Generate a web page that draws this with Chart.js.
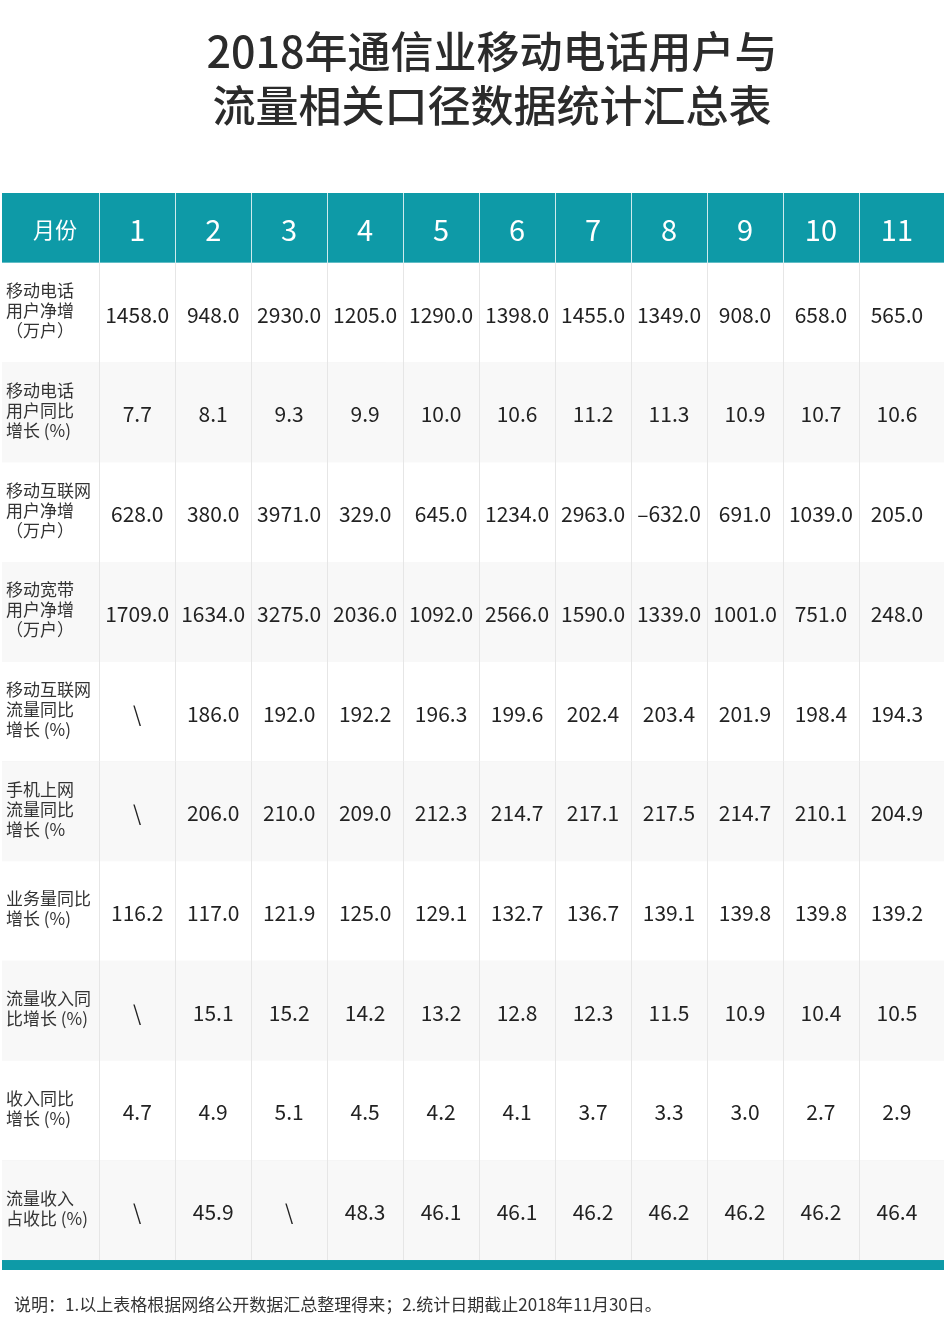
<!DOCTYPE html>
<html><head><meta charset="utf-8">
<script src="https://cdn.jsdelivr.net/npm/chart.js@4"></script>
<style>html,body{margin:0;padding:0;background:#fff}</style>
</head><body>
<canvas id="c" width="944" height="1340"></canvas>
<script>
const months = ['1','2','3','4','5','6','7','8','9','10','11'];
const rowLabels = [
 ['移动电话','用户净增','（万户）'],
 ['移动电话','用户同比','增长 (%)'],
 ['移动互联网','用户净增','（万户）'],
 ['移动宽带','用户净增','（万户）'],
 ['移动互联网','流量同比','增长 (%)'],
 ['手机上网','流量同比','增长 (%'],
 ['业务量同比','增长 (%)'],
 ['流量收入同','比增长 (%)'],
 ['收入同比','增长 (%)'],
 ['流量收入','占收比 (%)']
];
const mobileUsersNet = [1458,948,2930,1205,1290,1398,1455,1349,908,658,565];
const mobileUsersYoY = [7.7,8.1,9.3,9.9,10.0,10.6,11.2,11.3,10.9,10.7,10.6];
const mobileNetUsersNet = [628,380,3971,329,645,1234,2963,-632,691,1039,205];
const broadbandUsersNet = [1709,1634,3275,2036,1092,2566,1590,1339,1001,751,248];
const mobileTrafficYoY = [null,186.0,192.0,192.2,196.3,199.6,202.4,203.4,201.9,198.4,194.3];
const phoneTrafficYoY = [null,206.0,210.0,209.0,212.3,214.7,217.1,217.5,214.7,210.1,204.9];
const businessYoY = [116.2,117.0,121.9,125.0,129.1,132.7,136.7,139.1,139.8,139.8,139.2];
const trafficIncomeYoY = [null,15.1,15.2,14.2,13.2,12.8,12.3,11.5,10.9,10.4,10.5];
const incomeYoY = [4.7,4.9,5.1,4.5,4.2,4.1,3.7,3.3,3.0,2.7,2.9];
const trafficIncomeShare = [null,45.9,null,48.3,46.1,46.1,46.2,46.2,46.2,46.2,46.4];
const rows = [mobileUsersNet,mobileUsersYoY,mobileNetUsersNet,broadbandUsersNet,mobileTrafficYoY,phoneTrafficYoY,businessYoY,trafficIncomeYoY,incomeYoY,trafficIncomeShare];
const title = ['2018年通信业移动电话用户与','流量相关口径数据统计汇总表'];
const note = '说明：1.以上表格根据网络公开数据汇总整理得来；2.统计日期截止2018年11月30日。';

const points = [];
rows.forEach((r,ri)=>r.forEach((v,ci)=>points.push({x:ci+1,y:ri+1.2,v})));
const fmt = v => v===null ? '\\' : v.toFixed(1).replace('-','–');
const FONT = '"Noto Sans CJK SC","Noto Sans",sans-serif';
const NUMF = '"Noto Sans CJK SC",Inter,sans-serif';

const tablePlugin = {
 id:'table',
 beforeDatasetsDraw(chart){
  const ctx=chart.ctx, xs=chart.scales.x, ys=chart.scales.y;
  const L=xs.getPixelForValue(xs.min), R=xs.getPixelForValue(xs.max);
  ctx.save();
  ctx.fillStyle='#2b2b2b'; ctx.textAlign='center'; ctx.textBaseline='middle';
  ctx.font='500 43px '+FONT;
  ctx.fillText(title[0],492,52); ctx.fillText(title[1],492,106);
  const hT=ys.getPixelForValue(0), hB=ys.getPixelForValue(0.7);
  ctx.fillStyle='#0e9aa7'; ctx.fillRect(L,hT,R-L,hB-hT);
  rows.forEach((r,ri)=>{
   const t=ys.getPixelForValue(0.7+ri), b=ys.getPixelForValue(1.7+ri);
   ctx.fillStyle = ri%2 ? '#f8f8f8' : '#ffffff';
   ctx.fillRect(L,t,R-L,b-t);
   ctx.strokeStyle='#ececec'; ctx.lineWidth=1;
   ctx.beginPath(); ctx.moveTo(L,b+0.5); ctx.lineTo(R,b+0.5); ctx.stroke();
  });
  const bT=ys.getPixelForValue(10.7), bB=ys.getPixelForValue(10.8);
  ctx.fillStyle='#0e9aa7'; ctx.fillRect(L,bT,R-L,bB-bT);
  for(let i=0;i<=10;i++){
   const x=Math.round(xs.getPixelForValue(i+0.5))+0.5;
   ctx.strokeStyle='rgba(255,255,255,0.8)';
   ctx.beginPath(); ctx.moveTo(x,hT); ctx.lineTo(x,hB); ctx.stroke();
   ctx.strokeStyle='#e6e6e6';
   ctx.beginPath(); ctx.moveTo(x,hB); ctx.lineTo(x,bT); ctx.stroke();
  }
  ctx.fillStyle='#fff';
  ctx.font='22px '+FONT; ctx.textAlign='center';
  ctx.fillText('月份',55,(hT+hB)/2+2);
  ctx.font='29px '+NUMF;
  months.forEach((m,i)=>ctx.fillText(m,xs.getPixelForValue(i+1),(hT+hB)/2+2));
  ctx.fillStyle='#333'; ctx.textAlign='left'; ctx.font='17px '+FONT;
  rowLabels.forEach((lab,ri)=>{
   const cy=ys.getPixelForValue(1.2+ri)-2;
   lab.forEach((s,k)=>ctx.fillText(s,6,cy+(k-(lab.length-1)/2)*20));
  });
  ctx.font='17px '+FONT; ctx.fillStyle='#333';
  ctx.fillText(note,14,1305);
  ctx.restore();
 },
 afterDatasetsDraw(chart){
  const ctx=chart.ctx, xs=chart.scales.x, ys=chart.scales.y;
  ctx.save(); ctx.fillStyle='#222'; ctx.textAlign='center'; ctx.textBaseline='middle';
  ctx.font='21px '+NUMF;
  points.forEach(p=>ctx.fillText(fmt(p.v),xs.getPixelForValue(p.x),ys.getPixelForValue(p.y)+2));
  ctx.restore();
 }
};

new Chart(document.getElementById('c'),{
 type:'scatter',
 data:{datasets:[{data:points,pointRadius:0}]},
 options:{responsive:false,animation:false,devicePixelRatio:1,
  layout:{padding:{top:193,bottom:70,left:2,right:0}},
  plugins:{legend:{display:false},tooltip:{enabled:false}},
  scales:{
   x:{type:'linear',min:-0.78,max:11.62,display:false},
   y:{type:'linear',min:0,max:10.8,reverse:true,display:false}
  }},
 plugins:[tablePlugin]
});
</script>
</body></html>
